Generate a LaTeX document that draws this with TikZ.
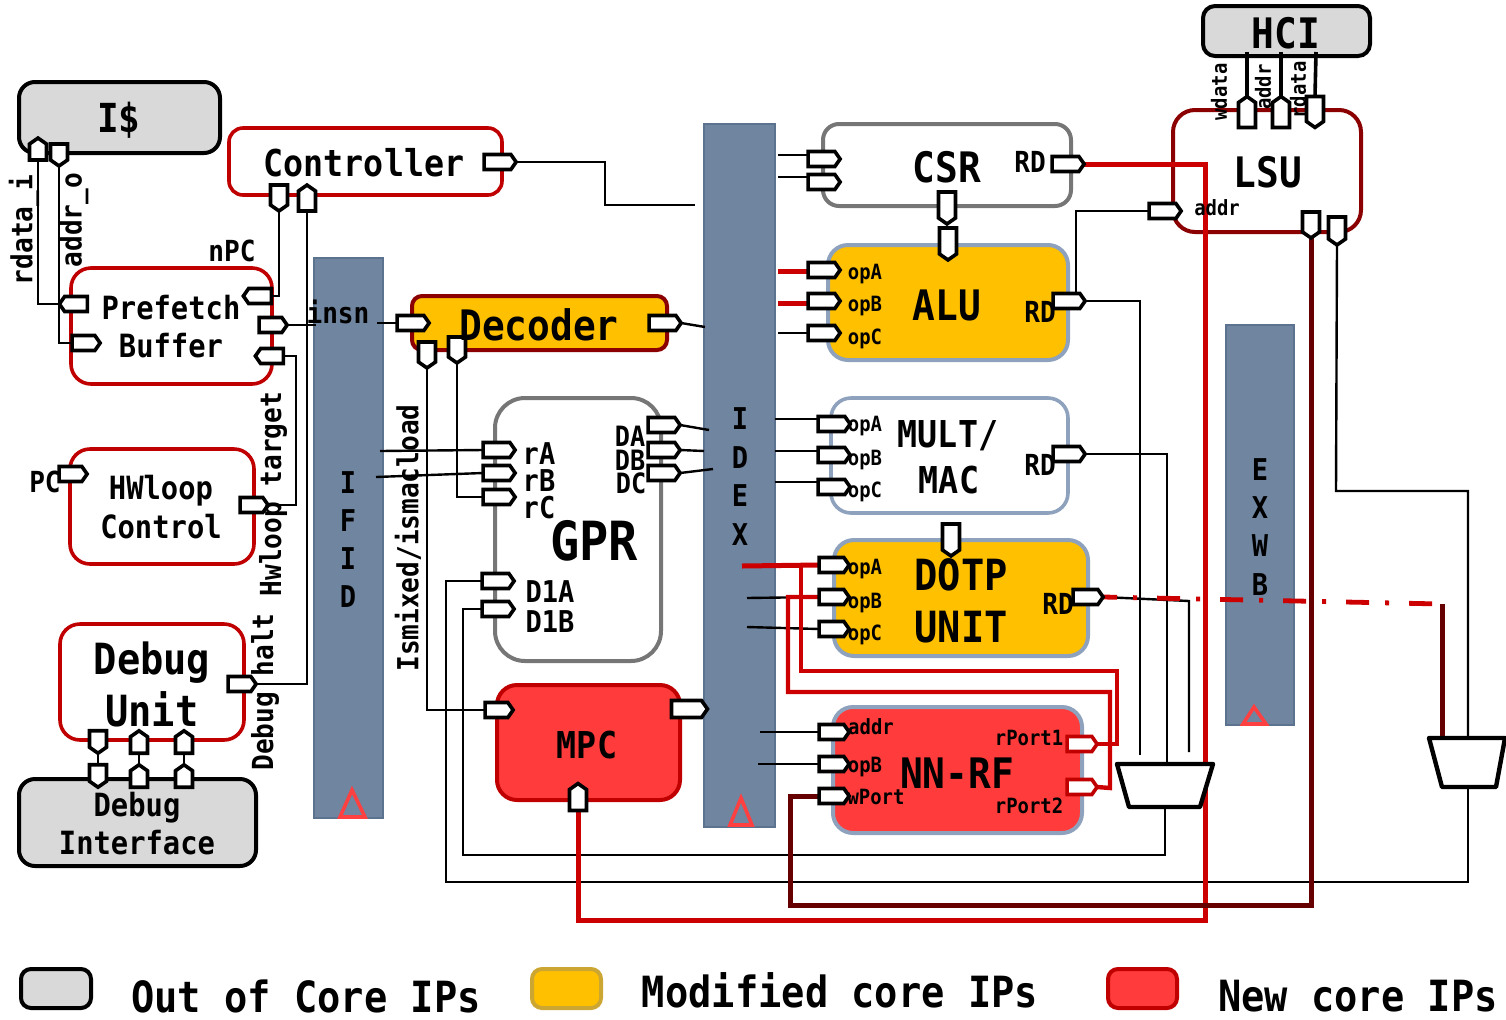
\documentclass[tikz,border=0pt]{standalone}
\usepackage{fontspec}
\usetikzlibrary{shapes.symbols}
\newfontfamily\djm[FakeStretch=0.9]{DejaVu Sans Mono}
\definecolor{gb}{HTML}{D9D9D9}
\definecolor{rd}{HTML}{C00000}
\definecolor{wred}{HTML}{CC0000}
\definecolor{bar}{HTML}{6F85A0}
\definecolor{baredge}{HTML}{5C7390}
\definecolor{gold}{HTML}{FFC000}
\definecolor{nn}{HTML}{FF3B3B}
\definecolor{bl}{HTML}{8EA2BD}
\definecolor{dr}{HTML}{8B0000}
\definecolor{wine}{HTML}{660000}
\definecolor{gr}{HTML}{767676}
\definecolor{tri}{HTML}{FF4040}
\pgfdeclarelayer{boxes}
\pgfdeclarelayer{wires}
\pgfsetlayers{boxes,wires,main}
\tikzset{
  bxbase/.style={shape=rectangle,draw,inner sep=0,outer sep=0,line width=2pt},
  gbox/.style={bxbase,fill=gb,draw=black,rounded corners=8pt},
  rbox/.style={bxbase,fill=white,draw=rd,line width=1.8pt,rounded corners=10pt},
  gpbox/.style={bxbase,fill=white,draw=gr,rounded corners=8pt},
  gldbox/.style={bxbase,fill=gold,draw=bl,rounded corners=10pt},
  wbbox/.style={bxbase,fill=white,draw=bl,line width=1.8pt,rounded corners=10pt},
  nnbox/.style={bxbase,fill=nn,draw=bl,rounded corners=10pt},
  barbox/.style={shape=rectangle,draw=baredge,fill=bar,inner sep=0,outer sep=0,line width=0.8pt},
  port/.style={shape=signal,draw=black,fill=white,line width=1.8pt,inner sep=0,outer sep=0,signal pointer angle=110,signal from=nowhere},
  pE/.style={port,signal to=east,minimum width=14pt,minimum height=7.5pt,xshift=-1.25pt},
  pW/.style={port,signal to=west,minimum width=14pt,minimum height=7.5pt,xshift=1pt},
  pS/.style={port,signal to=south,minimum width=8.5pt,minimum height=10pt,yshift=1.5pt},
  pN/.style={port,signal to=north,minimum width=8.5pt,minimum height=10pt,yshift=-1.5pt},
  w/.style={draw=black,line width=1.2pt},
  wr/.style={draw=wred,line width=2.5pt},
  wr2/.style={draw=wred,line width=2.2pt},
  wd/.style={draw=wine,line width=2.5pt},
  muxs/.style={draw=black,line width=2.2pt,fill=white,line join=round},
  t/.style={font=\djm\bfseries\fontsize{#1}{#1}\selectfont,inner sep=0,outer sep=0,text=black},
  trg/.style={draw=tri,line width=1.8pt,line join=miter}
}
\newcommand\bxn[6]{\node[#6,minimum width={(#4-#2)*0.5pt},minimum height={(#5-#3)*0.5pt}] (#1) at ({(#2+#4)/2},{(#3+#5)/2}) {};}
\begin{document}
\begin{tikzpicture}[x=0.5pt,y=-0.5pt]
\useasboundingbox (0,0) rectangle (1506,1019);
\begin{pgfonlayer}{boxes}
% pipeline bars
\bxn{ifid}{314}{258}{383}{818}{barbox}
\bxn{idex}{704}{124}{775}{827}{barbox}
\bxn{exwb}{1226}{325}{1294}{725}{barbox}
\draw[trg] (352,790) -- (365,817) -- (340,817) -- cycle;
\draw[trg] (741,798) -- (752,825) -- (730,825) -- cycle;
\draw[trg] (1254,707) -- (1266,724) -- (1243,724) -- cycle;
% boxes
\bxn{icache}{19}{82}{220}{153}{gbox}
\bxn{ctrl}{229}{128}{502}{195}{rbox,rounded corners=7pt}
\bxn{pfb}{71}{268}{272}{384}{rbox}
\bxn{hwl}{70}{449}{254}{564}{rbox}
\bxn{dbg}{60}{624}{244}{740}{rbox}
\bxn{dbi}{19}{779}{256}{866}{gbox}
\bxn{dec}{412}{296}{667}{350}{bxbase,fill=gold,draw=dr,rounded corners=5pt}
\bxn{gpr}{495}{398}{661}{661}{gpbox,rounded corners=15pt}
\bxn{mpc}{497}{685}{680}{800}{bxbase,fill=nn,draw=rd,rounded corners=10pt}
\bxn{csr}{823}{124}{1071}{206}{gpbox}
\bxn{alu}{828}{245}{1068}{360}{gldbox}
\bxn{mult}{831}{398}{1068}{513}{wbbox}
\bxn{dotp}{834}{540}{1088}{656}{gldbox}
\bxn{nnrf}{833}{707}{1082}{833}{nnbox}
\bxn{lsu}{1173}{110}{1361}{232}{bxbase,draw=dr,line width=2pt,rounded corners=11pt}
\bxn{hci}{1203}{6}{1370}{56}{gbox,rounded corners=6pt}
\bxn{lg1}{21}{969}{91}{1008}{gbox,rounded corners=5pt}
\bxn{lg2}{532}{969}{601}{1008}{bxbase,fill=gold,draw=gold!60!gray,rounded corners=5pt}
\bxn{lg3}{1108}{969}{1177}{1008}{bxbase,fill=nn,draw=rd,rounded corners=5pt}
\end{pgfonlayer}
% muxes
\coordinate (m1tl) at (1117,764); \coordinate (m1tr) at (1213,764);
\coordinate (m1bl) at (1129,807); \coordinate (m1br) at (1200,807);
\coordinate (m2tl) at (1429,738); \coordinate (m2tr) at (1505,738);
\coordinate (m2bl) at (1442,787); \coordinate (m2br) at (1496,787);
\coordinate (m1b) at (1165,807);
\coordinate (m2t) at (1468,738); \coordinate (m2b) at (1468,787);
\coordinate (m2w) at (1442,738);
% ports
\node[pN,minimum height=8pt] (iR) at (38,149) {};
\node[pS,minimum height=8pt] (iA) at (59,155) {};
\node[pS] (cS) at (279,198) {};
\node[pN] (cN) at (307,198) {};
\node[pE,minimum width=16pt] (cE) at (500,162) {};
\node[pW] (pfR) at (74,304) {};
\node[pE] (pfA) at (86,343) {};
\node[pW] (pfN) at (258,296) {};
\node[pE] (pfI) at (273,325) {};
\node[pW] (pfT) at (270,356) {};
\node[pE] (hP) at (73,474) {};
\node[pE] (hT) at (254,505) {};
\node[pE] (dH) at (242,684) {};
\node[pS,minimum height=8.25pt] (d1) at (98,742) {};
\node[pN,minimum height=8.25pt] (d2) at (139,742) {};
\node[pN,minimum height=8.25pt] (d3) at (184,742) {};
\node[pS,minimum height=8.25pt] (i1) at (98,776) {};
\node[pN,minimum height=8.25pt] (i2) at (139,776) {};
\node[pN,minimum height=8.25pt] (i3) at (184,776) {};
\node[pE,minimum width=16pt] (decI) at (413,323) {};
\node[pE,minimum width=16pt] (decO) at (665,323) {};
\node[pS] (decA) at (427,355) {};
\node[pS] (decB) at (457,350) {};
\node[pE,minimum width=16pt] (rA) at (499,450) {};
\node[pE,minimum width=16pt] (rB) at (499,473) {};
\node[pE,minimum width=16pt] (rC) at (499,497) {};
\node[pE,minimum width=16pt] (dlA) at (498,581) {};
\node[pE,minimum width=16pt] (dlB) at (498,609) {};
\node[pE,minimum width=16pt] (oA) at (664,425) {};
\node[pE,minimum width=16pt] (oB) at (664,450) {};
\node[pE,minimum width=16pt] (oC) at (664,473) {};
\node[pE] (mI) at (499,710) {};
\node[pE,minimum width=18pt,minimum height=8.5pt] (mO) at (689,709) {};
\node[pN,minimum height=10.5pt] (mW) at (578,797) {};
\node[pE,minimum width=16pt] (c1) at (824,159) {};
\node[pE,minimum width=16pt] (c2) at (824,182) {};
\node[pE,minimum width=16pt] (cRD) at (1068,164) {};
\node[pS,minimum height=13pt] (cD) at (947,208) {};
\node[pS,minimum height=13pt] (aT) at (948,244) {};
\node[pE,minimum width=16pt] (a1) at (824,270) {};
\node[pE,minimum width=16pt] (a2) at (824,301) {};
\node[pE,minimum width=16pt] (a3) at (824,333) {};
\node[pE,minimum width=16pt] (aRD) at (1069,301) {};
\node[pE,minimum width=16pt] (u1) at (834,424) {};
\node[pE,minimum width=16pt] (u2) at (834,455) {};
\node[pE,minimum width=16pt] (u3) at (834,487) {};
\node[pE,minimum width=16pt] (uRD) at (1069,454) {};
\node[pS,minimum height=13pt] (dT) at (951,540) {};
\node[pE,minimum width=15pt] (d1p) at (834,565) {};
\node[pE,minimum width=15pt] (d2p) at (834,597) {};
\node[pE,minimum width=15pt] (d3p) at (834,629) {};
\node[pE,minimum width=15pt] (dRD) at (1088,597) {};
\node[pE,minimum width=15pt] (n1) at (834,732) {};
\node[pE,minimum width=15pt] (n2) at (834,764) {};
\node[pE,minimum width=15pt] (n3) at (834,796) {};
\node[pE,minimum width=15pt,draw=rd] (nR1) at (1082,744) {};
\node[pE,minimum width=15pt,draw=rd] (nR2) at (1082,787) {};
\node[pE,minimum width=16pt] (lA) at (1165,211) {};
\node[pN,minimum height=12.5pt] (lW) at (1247,112) {};
\node[pN,minimum height=12.5pt] (lD) at (1281,112) {};
\node[pS,minimum height=12.5pt] (lR) at (1315,112) {};
\node[pS,minimum height=10pt] (lO) at (1311,225) {};
\node[pS,minimum height=11pt] (lP) at (1337,231) {};
% free ends
\coordinate (fI1) at (316,325);
\coordinate (fI2) at (377,323);
\coordinate (fA) at (380,451);
\coordinate (fB) at (376,477);
\coordinate (fC) at (695,205);
\coordinate (fDec) at (705,327);
\coordinate (fDA) at (709,430);
\coordinate (fDB) at (704,451);
\coordinate (fDC) at (713,469);
\coordinate (fc1) at (778,155);
\coordinate (fc2) at (778,177);
\coordinate (fa1) at (778,271);
\coordinate (fa2) at (778,303);
\coordinate (fa3) at (778,333);
\coordinate (fu1) at (775,419);
\coordinate (fu2) at (775,451);
\coordinate (fu3) at (775,482);
\coordinate (fd1) at (742,566);
\coordinate (fd2) at (747,598);
\coordinate (fd3) at (747,627);
\coordinate (fn1) at (760,732);
\coordinate (fn2) at (758,764);
\coordinate (hW) at (1247,52);
\coordinate (hD) at (1281,52);
\coordinate (hR) at (1316,52);
\coordinate (aE) at (1140,755);
\coordinate (uE) at (1167,764);
\coordinate (dE) at (1189,752);
\coordinate (dD) at (1442,604);
% wires
\begin{pgfonlayer}{wires}
\draw[w] (iR.south) |- (pfR.west);
\draw[w] (iA.south) |- (pfA.west);
\draw[w] (cS.south) |- (pfN.east);
\draw[w] (cN.south) |- (dH.east);
\draw[w] (pfI.east) -- (fI1);
\draw[w] (fI2) -- (decI.west);
\draw[w] (pfT.east) -| (296,505) -- (hT.east);
\draw[w] (cE.east) -- (605,162) |- (fC);
\draw[w] (decO.east) -- (fDec);
\draw[w] (decA.south) |- (mI.west);
\draw[w] (decB.south) |- (rC.west);
\draw[w] (fA) -- (rA.west);
\draw[w] (fB) -- (rB.west);
\draw[w] (oA.east) -- (fDA);
\draw[w] (oB.east) -- (fDB);
\draw[w] (oC.east) -- (fDC);
\draw[w] (dlA.west) -| (446,882) -| (m2b);
\draw[w] (dlB.west) -| (463,855) -| (m1b);
\draw[w] (fc1) -- (fc1 -| c1.west);
\draw[w] (fc2) -- (fc2 -| c2.west);
\draw[wr] (fa1) -- (fa1 -| a1.west);
\draw[wr] (fa2) -- (fa2 -| a2.west);
\draw[w] (fa3) -- (fa3 -| a3.west);
\draw[w] (fu1) -- (fu1 -| u1.west);
\draw[w] (fu2) -- (fu2 -| u2.west);
\draw[w] (fu3) -- (fu3 -| u3.west);
\draw[w] (fd2) -- (d2p.west);
\draw[w] (fd3) -- (d3p.west);
\draw[w] (fn1) -- (n1.west);
\draw[w] (fn2) -- (n2.west);
\draw[w] (aRD.east) -| (aE);
\draw[w] (1076,293) |- (lA.west);
\draw[w] (uRD.east) -| (uE);
\draw[w] (dRD.east) -- (1189,601) -- (dE);
\draw[w] (m2t) |- (1336,491) -- (lP.south);
\draw[w] (d1.south) -- (i1.north);
\draw[w] (d2.north) -- (i2.north);
\draw[w] (d3.north) -- (i3.north);
\draw[wr2] (d1p.west) -| (801,671) -| (1117,744) -- (nR1.east);
\draw[wr2] (d2p.west) -| (788,692) -| (1110,788) -- (nR2.east);
\draw[wr] (fd1) -- (d1p.west);
\draw[wr] (cRD.east) -| (1205,920) -| (mW.south);
\draw[wd] (n3.west) -| (790,905) -| (lO.south);
\draw[draw=wred,line width=2.4pt,dash pattern=on 11.5pt off 8pt on 2pt off 10pt,dash phase=4.5pt] (dRD.east) -- (dD);
\draw[wd] (dD) -- (m2w);
\draw[line width=1.8pt] (lW.north) -- (hW);
\draw[line width=1.8pt] (lD.north) -- (hD);
\draw[line width=1.8pt] (lR.north) -- (hR);
\draw[muxs] (m1tl) -- (m1tr) -- (m1br) -- (m1bl) -- cycle;
\draw[muxs] (m2tl) -- (m2tr) -- (m2br) -- (m2bl) -- cycle;
\end{pgfonlayer}
% text
\node[t=20] (tI) at (119,120) {I\$};
\node[t=18.5] (tCtl) at (364,163) {Controller};
\node[t=16] (tP1) at (171,308) {Prefetch};
\node[t=16] (tP2) at (171,346) {Buffer};
\node[t=16] (tH1) at (161,491) {HWloop};
\node[t=16] (tH2) at (161,527) {Control};
\node[t=21.5] (tD1) at (152,663) {Debug};
\node[t=21.5] (tD2) at (152,709) {Unit};
\node[t=16] (tI1) at (137,808) {Debug};
\node[t=16] (tI2) at (137,843) {Interface};
\node[t=14.5] (tPC) at (45,482) {PC};
\node[t=14.5] (tnPC) at (232,251) {nPC};
\node[t=14.5] (tinsn) at (338,312) {insn};
\node[t=14.5,rotate=90] (trd) at (24,230) {rdata\_i};
\node[t=14.5,rotate=90] (tad) at (74,220) {addr\_o};
\node[t=14.5,rotate=90] (thw) at (273,494) {Hwloop target};
\node[t=14.5,rotate=90] (tdb) at (265,692) {Debug halt};
\node[t=14.5,rotate=90] (tis) at (408,538) {Ismixed/ismacload};
\node[t=21] (tDec) at (539,325) {Decoder};
\node[t=15] (trA) at (539,454) {rA};
\node[t=15] (trB) at (539,481) {rB};
\node[t=15] (trC) at (539,508) {rC};
\node[t=14] (tDA) at (630,436) {DA};
\node[t=14] (tDB) at (630,460) {DB};
\node[t=14] (tDC) at (631,483) {DC};
\node[t=15] (tD1A) at (550,592) {D1A};
\node[t=15] (tD1B) at (550,622) {D1B};
\node[t=27] (tGPR) at (594,541) {GPR};
\node[t=18.5] (tMPC) at (587,745) {MPC};
\foreach \c/\y in {I/483,F/521,I/559,D/597}{\node[t=15] at (348,\y) {\c};}
\foreach \c/\y in {I/419,D/458,E/496,X/535}{\node[t=15] at (740,\y) {\c};}
\foreach \c/\y in {E/470,X/508,W/546,B/585}{\node[t=15] at (1260,\y) {\c};}
\node[t=21] (tCSR) at (947,167) {CSR};
\node[t=14.5] (tcRD) at (1030,162) {RD};
\node[t=21] (tLSU) at (1268,172) {LSU};
\node[t=10.5] (tladdr) at (1217,208) {addr};
\node[t=21] (tHCI) at (1286,33) {HCI};
\node[t=10.5,rotate=90] (twd) at (1219,92) {wdata};
\node[t=10.5,rotate=90] (tadd) at (1263,87) {addr};
\node[t=10.5,rotate=90] (trdd) at (1298,90) {rdata};
\node[t=21] (tALU) at (947,305) {ALU};
\node[t=14.5] (taRD) at (1040,312) {RD};
\node[t=10.5] (ta1) at (865,274) {opA};
\node[t=10.5] (ta2) at (865,306) {opB};
\node[t=10.5] (ta3) at (865,339) {opC};
\node[t=18.5] (tM1) at (948,436) {MULT/};
\node[t=18.5] (tM2) at (949,480) {MAC};
\node[t=14.5] (tuRD) at (1040,465) {RD};
\node[t=10.5] (tu1) at (865,426) {opA};
\node[t=10.5] (tu2) at (865,460) {opB};
\node[t=10.5] (tu3) at (865,492) {opC};
\node[t=21.5] (tDO) at (961,575) {DOTP};
\node[t=21.5] (tUN) at (961,627) {UNIT};
\node[t=14.5] (tdRD) at (1058,604) {RD};
\node[t=10.5] (td1) at (865,569) {opA};
\node[t=10.5] (td2) at (865,603) {opB};
\node[t=10.5] (td3) at (865,635) {opC};
\node[t=10.5] (tn1) at (871,727) {addr};
\node[t=10.5] (tn2) at (865,767) {opB};
\node[t=10.5] (tn3) at (876,797) {wPort};
\node[t=21] (tNN) at (957,773) {NN-RF};
\node[t=10.5] (tr1) at (1029,738) {rPort1};
\node[t=10.5] (tr2) at (1029,806) {rPort2};
\node[t=21.5] (tL1) at (306,996) {Out of Core IPs};
\node[t=21.5] (tL2) at (840,990) {Modified core IPs};
\node[t=21.5] (tL3) at (1358,996) {New core IPs};
\end{tikzpicture}
\end{document}
